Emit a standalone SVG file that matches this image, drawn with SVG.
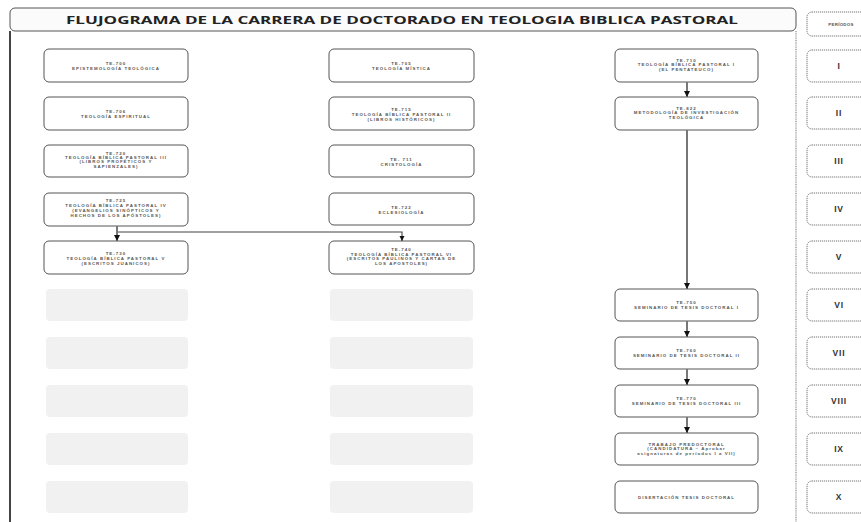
<svg xmlns="http://www.w3.org/2000/svg" width="861" height="522" viewBox="0 0 861 522">
<defs>
<style>
.box{fill:#fff;stroke:#555;stroke-width:1}
.ghost{fill:#f1f1f1;stroke:none}
.t{font-family:"Liberation Sans",Arial,sans-serif;font-weight:bold;font-size:4.4px;letter-spacing:1.05px;fill:#555;text-anchor:middle}
.title{font-family:"Open Sans","Liberation Sans",sans-serif;font-weight:bold;font-size:11px;fill:#222;text-anchor:middle}
.per{fill:#fff;stroke:#666;stroke-width:0.9;stroke-dasharray:1.2 0.8}
.pt{font-family:"Liberation Sans",Arial,sans-serif;font-weight:bold;font-size:8.5px;letter-spacing:0.8px;fill:#333;text-anchor:middle}
.conn{stroke:#777;stroke-width:2;fill:none}
.conn2{stroke:#444;stroke-width:1.1;fill:none}
</style>
<marker id="ah" viewBox="0 0 10 10" refX="10" refY="5" markerWidth="3" markerHeight="3" orient="auto" markerUnits="strokeWidth">
<path d="M0,0 L10,5 L0,10 z" fill="#111"/>
</marker>
<marker id="ah2" viewBox="0 0 10 10" refX="10" refY="5" markerWidth="5" markerHeight="5" orient="auto" markerUnits="strokeWidth">
<path d="M0,0 L10,5 L0,10 z" fill="#111"/>
</marker>
</defs>
<rect width="861" height="522" fill="#fff"/>

<g id="frame">
<rect x="10" y="8" width="786" height="23" rx="5" fill="#fbfbfb" stroke="#555" stroke-width="1"/>
<text class="title" x="402" y="24" textLength="672" lengthAdjust="spacingAndGlyphs">FLUJOGRAMA DE LA CARRERA DE DOCTORADO EN TEOLOGIA BIBLICA PASTORAL</text>
<line x1="10" y1="31" x2="10" y2="522" stroke="#444" stroke-width="2"/>
<line x1="796" y1="31" x2="796" y2="522" stroke="#888" stroke-width="1.2" stroke-dasharray="1 0.8"/>
</g>

<g id="periods">
<g id="p0"><rect class="per" x="807" y="12" width="70" height="24" rx="5"/><text class="t" x="841" y="26" style="letter-spacing:0.3px">PERÍODOS</text></g>
<g id="p1"><rect class="per" x="807" y="50" width="70" height="32" rx="5"/><text class="pt" x="839" y="69">I</text></g>
<g id="p2"><rect class="per" x="807" y="97" width="70" height="32" rx="5"/><text class="pt" x="839" y="116">II</text></g>
<g id="p3"><rect class="per" x="807" y="145" width="70" height="32" rx="5"/><text class="pt" x="839" y="164">III</text></g>
<g id="p4"><rect class="per" x="807" y="193" width="70" height="32" rx="5"/><text class="pt" x="839" y="212">IV</text></g>
<g id="p5"><rect class="per" x="807" y="241" width="70" height="32" rx="5"/><text class="pt" x="839" y="260">V</text></g>
<g id="p6"><rect class="per" x="807" y="289" width="70" height="32" rx="5"/><text class="pt" x="839" y="308">VI</text></g>
<g id="p7"><rect class="per" x="807" y="337" width="70" height="32" rx="5"/><text class="pt" x="839" y="356">VII</text></g>
<g id="p8"><rect class="per" x="807" y="385" width="70" height="32" rx="5"/><text class="pt" x="839" y="404">VIII</text></g>
<g id="p9"><rect class="per" x="807" y="433" width="70" height="32" rx="5"/><text class="pt" x="839" y="452">IX</text></g>
<g id="p10"><rect class="per" x="807" y="481" width="70" height="32" rx="5"/><text class="pt" x="839" y="500">X</text></g>
</g>

<g id="left-column">
<g id="te700"><rect class="box" x="44" y="49" width="144" height="33" rx="5"/><text class="t" x="116" y="65">TE-700</text><text class="t" x="116" y="70">EPISTEMOLOGÍA TEOLÓGICA</text></g>
<g id="te706"><rect class="box" x="44" y="97" width="144" height="33" rx="5"/><text class="t" x="116" y="113">TE-706</text><text class="t" x="116" y="118">TEOLOGÍA ESPIRITUAL</text></g>
<g id="te720"><rect class="box" x="44" y="145" width="144" height="32" rx="5"/><text class="t" x="116" y="154.5">TE-720</text><text class="t" x="116" y="159">TEOLOGÍA BÍBLICA PASTORAL III</text><text class="t" x="116" y="163.3">(LIBROS PROFÉTICOS Y</text><text class="t" x="116" y="167.6">SAPIENZALES)</text></g>
<g id="te725"><rect class="box" x="44" y="193" width="144" height="33" rx="5"/><text class="t" x="116" y="202">TE-725</text><text class="t" x="116" y="207">TEOLOGÍA BÍBLICA PASTORAL IV</text><text class="t" x="116" y="212">(EVANGELIOS SINÓPTICOS Y</text><text class="t" x="116" y="217">HECHOS DE LOS APÓSTOLES)</text></g>
<g id="te730"><rect class="box" x="44" y="241" width="144" height="33" rx="5"/><text class="t" x="116" y="255">TE-730</text><text class="t" x="116" y="260">TEOLOGÍA BÍBLICA PASTORAL V</text><text class="t" x="116" y="265">(ESCRITOS JUANICOS)</text></g>
<g id="gl6"><rect class="ghost" x="46" y="289" width="142" height="32" rx="4"/></g>
<g id="gl7"><rect class="ghost" x="46" y="337" width="142" height="32" rx="4"/></g>
<g id="gl8"><rect class="ghost" x="46" y="385" width="142" height="32" rx="4"/></g>
<g id="gl9"><rect class="ghost" x="46" y="433" width="142" height="32" rx="4"/></g>
<g id="gl10"><rect class="ghost" x="46" y="481" width="142" height="32" rx="4"/></g>
</g>

<g id="middle-column">
<g id="te705"><rect class="box" x="329" y="49" width="145" height="33" rx="5"/><text class="t" x="401.5" y="65">TE-705</text><text class="t" x="401.5" y="70">TEOLOGÍA MÍSTICA</text></g>
<g id="te715"><rect class="box" x="329" y="97" width="145" height="33" rx="5"/><text class="t" x="401.5" y="110.5">TE-715</text><text class="t" x="401.5" y="115.5">TEOLOGÍA BÍBLICA PASTORAL II</text><text class="t" x="401.5" y="120.5">(LIBROS HISTÓRICOS)</text></g>
<g id="te711"><rect class="box" x="329" y="145" width="145" height="32" rx="5"/><text class="t" x="401.5" y="161">TE- 711</text><text class="t" x="401.5" y="166">CRISTOLOGÍA</text></g>
<g id="te722"><rect class="box" x="329" y="193" width="145" height="32" rx="5"/><text class="t" x="401.5" y="209">TE-722</text><text class="t" x="401.5" y="214">ECLESIOLOGÍA</text></g>
<g id="te740"><rect class="box" x="329" y="241" width="145" height="33" rx="5"/><text class="t" x="401.5" y="251">TE-740</text><text class="t" x="401.5" y="255.7">TEOLOGÍA BÍBLICA PASTORAL VI</text><text class="t" x="401.5" y="260.4">(ESCRITOS PAULINOS Y CARTAS DE</text><text class="t" x="401.5" y="265.1">LOS APOSTOLES)</text></g>
<g id="gm6"><rect class="ghost" x="330" y="289" width="143" height="32" rx="4"/></g>
<g id="gm7"><rect class="ghost" x="330" y="337" width="143" height="32" rx="4"/></g>
<g id="gm8"><rect class="ghost" x="330" y="385" width="143" height="32" rx="4"/></g>
<g id="gm9"><rect class="ghost" x="330" y="433" width="143" height="32" rx="4"/></g>
<g id="gm10"><rect class="ghost" x="330" y="481" width="143" height="32" rx="4"/></g>
</g>

<g id="right-column">
<g id="te710"><rect class="box" x="615" y="49" width="143" height="33" rx="5"/><text class="t" x="686.5" y="61.5">TE-710</text><text class="t" x="686.5" y="66.3">TEOLOGÍA BÍBLICA PASTORAL I</text><text class="t" x="686.5" y="71.1">(EL PENTATEUCO)</text></g>
<g id="te822"><rect class="box" x="615" y="97" width="143" height="33" rx="5"/><text class="t" x="686.5" y="109.5">TE-822</text><text class="t" x="686.5" y="114.3">METODOLOGÍA DE INVESTIGACIÓN</text><text class="t" x="686.5" y="119.1">TEOLÓGICA</text></g>
<g id="te750"><rect class="box" x="615" y="289" width="143" height="32" rx="5"/><text class="t" x="686.5" y="304">TE-750</text><text class="t" x="686.5" y="309">SEMINARIO DE TESIS DOCTORAL I</text></g>
<g id="te760"><rect class="box" x="615" y="337" width="143" height="32" rx="5"/><text class="t" x="686.5" y="352">TE-760</text><text class="t" x="686.5" y="357">SEMINARIO DE TESIS DOCTORAL II</text></g>
<g id="te770"><rect class="box" x="615" y="385" width="143" height="32" rx="5"/><text class="t" x="686.5" y="400">TE-770</text><text class="t" x="686.5" y="405">SEMINARIO DE TESIS DOCTORAL III</text></g>
<g id="predoc"><rect class="box" x="615" y="433" width="143" height="32" rx="5"/><text class="t" x="686.5" y="445.5">TRABAJO PREDOCTORAL</text><text class="t" x="686.5" y="450.3">(CANDIDATURA – Aprobar</text><text class="t" x="686.5" y="455.1">asignaturas de períodos I a VII)</text></g>
<g id="disert"><rect class="box" x="615" y="481" width="143" height="32" rx="5"/><text class="t" x="686.5" y="498.5">DISERTACIÓN TESIS DOCTORAL</text></g>
</g>

<g id="connectors">
<line class="conn" x1="687" y1="82" x2="687" y2="97" marker-end="url(#ah)"/>
<line class="conn" x1="687" y1="130" x2="687" y2="289" marker-end="url(#ah)"/>
<line class="conn" x1="687" y1="321" x2="687" y2="337" marker-end="url(#ah)"/>
<line class="conn" x1="687" y1="369" x2="687" y2="385" marker-end="url(#ah)"/>
<line class="conn" x1="687" y1="417" x2="687" y2="433" marker-end="url(#ah)"/>
<line class="conn" x1="117" y1="226" x2="117" y2="241" marker-end="url(#ah)"/>
<path class="conn2" d="M118,232 H402 V241" marker-end="url(#ah2)"/>
</g>
</svg>
